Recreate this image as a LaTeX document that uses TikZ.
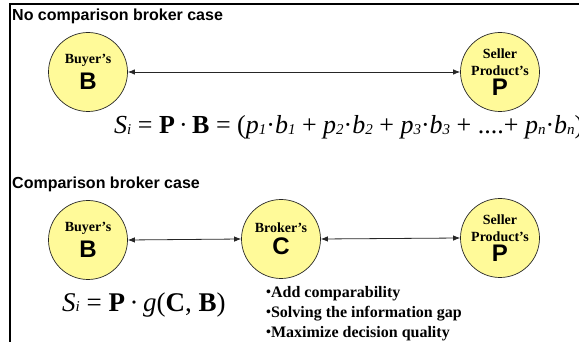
\documentclass[tikz,border=0pt]{standalone}
\usepackage{fontspec}
\usetikzlibrary{arrows.meta}
\setmainfont{Liberation Serif}
\newfontfamily\hsans{Liberation Sans}
\newcommand{\sbs}[1]{\raisebox{-1pt}{\fontsize{15}{15}\selectfont\itshape #1}}
\newcommand{\vb}[1]{\textbf{#1}}
\newcommand{\bigltr}[1]{{\hsans\fontsize{24}{24}\selectfont #1}}
\newcommand{\mdot}{\,·\,}
\newcommand{\bulpt}{{\fontsize{14}{14}\selectfont\raisebox{0.5pt}{•}}}
\begin{document}
\begin{tikzpicture}[>={Latex[length=7pt,width=5.5pt]}, x=1pt, y=-1pt]
\tikzstyle{party}=[circle,draw=black!85,line width=0.7pt,fill=yellow!40,minimum size=79pt,inner sep=0pt,align=center,font=\bfseries\fontsize{14}{17}\selectfont]
\tikzstyle{head}=[anchor=base west,inner sep=0pt,font=\hsans\bfseries\fontsize{16}{16}\selectfont]
\tikzstyle{link}=[<->,line width=0.8pt,black!85]
\useasboundingbox (0,0) rectangle (579,342);
\draw[line width=2pt] (579,4) -| (10,342);
% no comparison broker case
\node[head](h1) at (12,21) {No comparison broker case};
\node[party](b1) at (88,72) {Buyer's\\[5pt]\bigltr{B}};
\node[party](p1) at (500,72) {Seller\\Product's\\[3pt]\bigltr{P}};
\draw[link] (b1.east) -- (p1.west);
\node[anchor=base west,inner sep=0pt,font=\fontsize{26}{26}\selectfont](f1) at (114,134)
  {\textit{S}\sbs{i} = \vb{P}\mdot\vb{B} = (\textit{p}\sbs{1}·\textit{b}\sbs{1} + \textit{p}\sbs{2}·\textit{b}\sbs{2} + \textit{p}\sbs{3}·\textit{b}\sbs{3} + ....+ \textit{p}\sbs{n}·\textit{b}\sbs{n})};
% comparison broker case
\node[head](h2) at (12,189) {Comparison broker case};
\node[party](b2) at (88,240) {Buyer's\\[5pt]\bigltr{B}};
\node[party](c2) at (281,239) {Broker's\\[5pt]\bigltr{C}};
\node[party](p2) at (500,238) {Seller\\Product's\\[3pt]\bigltr{P}};
\draw[link] (b2.east) -- (c2.west);
\draw[link] (c2.east) -- (p2.west);
\node[anchor=base west,inner sep=0pt,font=\fontsize{27}{27}\selectfont](f2) at (62,311)
  {\textit{S}\sbs{i} = \vb{P}\mdot\textit{g}(\vb{C}, \vb{B})};
\node[anchor=north west,inner sep=0pt,align=left,font=\bfseries\fontsize{16}{20}\selectfont](note) at (266,286)
  {\bulpt Add comparability\\\bulpt Solving the information gap\\\bulpt Maximize decision quality};
\end{tikzpicture}
\end{document}
